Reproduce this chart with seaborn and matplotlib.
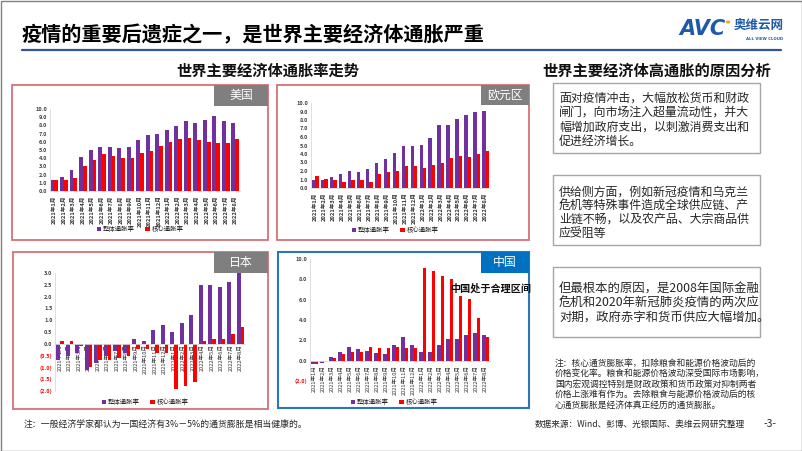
import numpy as np
import pandas as pd
import matplotlib
matplotlib.use("Agg")
import matplotlib.pyplot as plt
from matplotlib.patches import Rectangle, Circle
import seaborn as sns

sns.set_theme(style="white")
plt.rcParams['font.family'] = ['Noto Sans CJK SC', 'DejaVu Sans']
plt.rcParams['axes.unicode_minus'] = False

# ---------------- data ----------------
months = ['2021年1月', '2021年2月', '2021年3月', '2021年4月', '2021年5月', '2021年6月',
          '2021年7月', '2021年8月', '2021年9月', '2021年10月', '2021年11月', '2021年12月',
          '2022年1月', '2022年2月', '2022年3月', '2022年4月', '2022年5月', '2022年6月',
          '2022年7月', '2022年8月']
series_names = ['整体通胀率', '核心通胀率']

us_overall = [1.4, 1.7, 2.6, 4.2, 5.0, 5.4, 5.4, 5.3, 5.4, 6.2, 6.8, 7.0, 7.5, 7.9, 8.5, 8.3, 8.6, 9.1, 8.5, 8.3]
us_core    = [1.4, 1.3, 1.6, 3.0, 3.8, 4.5, 4.3, 4.0, 4.0, 4.6, 4.9, 5.5, 6.0, 6.4, 6.5, 6.2, 6.0, 5.9, 5.9, 6.3]

eu_overall = [0.9, 0.9, 1.3, 1.6, 2.0, 1.9, 2.2, 3.0, 3.4, 4.1, 4.9, 5.0, 5.1, 5.9, 7.4, 7.4, 8.1, 8.6, 8.9, 9.1]
eu_core    = [1.4, 1.1, 0.9, 0.7, 1.0, 0.9, 0.7, 1.6, 1.9, 2.0, 2.6, 2.6, 2.3, 2.7, 3.0, 3.5, 3.8, 3.7, 4.0, 4.3]

jp_overall = [-0.7, -0.5, -0.4, -1.1, -0.8, -0.5, -0.3, -0.4, 0.2, 0.1, 0.6, 0.8, 0.5, 0.9, 1.2, 2.5, 2.5, 2.4, 2.6, 3.0]
jp_core    = [0.1, 0.1, -0.1, -1.0, -0.7, -0.7, -0.6, -0.5, -0.2, -0.2, -0.4, -0.4, -1.9, -1.8, -1.6, 0.1, 0.2, 0.2, 0.4, 0.7]

cn_overall = [-0.3, -0.2, 0.4, 0.9, 1.3, 1.1, 1.0, 0.8, 0.7, 1.5, 2.3, 1.5, 0.9, 0.9, 1.5, 2.1, 2.1, 2.5, 2.7, 2.5]
cn_core    = [-0.3, 0.0, 0.3, 0.7, 0.9, 0.9, 1.3, 1.2, 1.2, 1.3, 1.2, 1.2, 9.1, 8.8, 8.3, 8.0, 6.4, 6.1, 4.2, 2.3]

us_yticks = [0, 1, 2, 3, 4, 5, 6, 7, 8, 9, 10]
eu_yticks = [0, 1, 2, 3, 4, 5, 6, 7, 8, 9, 10]
jp_yticks = [-2.0, -1.5, -1.0, -0.5, 0.0, 0.5, 1.0, 1.5, 2.0, 2.5, 3.0]
cn_yticks = [-2.0, 0.0, 2.0, 4.0, 6.0, 8.0, 10.0]

title = '疫情的重要后遗症之一，是世界主要经济体通胀严重'
left_header = '世界主要经济体通胀率走势'
right_header = '世界主要经济体高通胀的原因分析'
box1_lines = ['面对疫情冲击，大幅放松货币和财政', '闸门，向市场注入超量流动性，并大',
              '幅增加政府支出，以刺激消费支出和', '促进经济增长。']
box2_lines = ['供给侧方面，例如新冠疫情和乌克兰', '危机等特殊事件造成全球供应链、产',
              '业链不畅，以及农产品、大宗商品供', '应受阻等']
box3_lines = ['但最根本的原因，是2008年国际金融', '危机和2020年新冠肺炎疫情的两次应',
              '对期，政府赤字和货币供应大幅增加。']
note_lines = ['注：核心通货膨胀率，扣除粮食和能源价格波动后的',
              '价格变化率。粮食和能源价格波动深受国际市场影响，',
              '国内宏观调控特别是财政政策和货币政策对抑制两者',
              '价格上涨难有作为。去除粮食与能源价格波动后的核',
              '心通货膨胀是经济体真正经历的通货膨胀。']
footnote = '注：一般经济学家都认为一国经济有3%－5%的通货膨胀是相当健康的。'
source = '数据来源：Wind、彭博、光银国际、奥维云网研究整理'

PURPLE = '#7030A0'
RED = '#FF0000'
ROSE = '#D9707A'
GRAY_LBL = '#7F7F7F'
BLUE_LBL = '#0070C0'
BLUE_FRAME = '#2E75B6'

W, H = 802, 451
fig = plt.figure(figsize=(W / 100, H / 100), dpi=100)
fig.patch.set_facecolor('white')


def fx(px):
    return px / W


def fy(py):
    return 1 - py / H


def ax_px(l, t, r, b):
    return fig.add_axes([l / W, 1 - b / H, (r - l) / W, (b - t) / H])


def rect_px(l, t, r, b, **kw):
    fig.add_artist(Rectangle((fx(l), fy(b)), (r - l) / W, (b - t) / H,
                             transform=fig.transFigure, **kw))


def fmt(v):
    return f'{v:.1f}' if v >= 0 else f'({abs(v):.1f})'


def chart(box, overall, core, yticks, leg_xy, width, zero_spine, xpad):
    ax = ax_px(*box)
    df = pd.DataFrame({'月份': months * 2,
                       '系列': [series_names[0]] * len(months) + [series_names[1]] * len(months),
                       '数值': list(overall) + list(core)})
    sns.barplot(data=df, x='月份', y='数值', hue='系列', hue_order=series_names,
                palette=[PURPLE, RED], width=width, errorbar=None, saturation=1,
                linewidth=0, edgecolor='none', ax=ax)
    ax.set_xlim(-0.5, len(months) - 0.5)
    ax.set_ylim(min(yticks), max(yticks))
    ax.set_yticks(yticks)
    ax.set_yticklabels([fmt(v) for v in yticks])
    for lbl, v in zip(ax.get_yticklabels(), yticks):
        lbl.set_color(RED if v < 0 else '#404040')
        lbl.set_fontweight('bold')
        lbl.set_fontsize(4)
    ax.set_xlabel('')
    ax.set_ylabel('')
    ax.tick_params(axis='x', rotation=90, labelsize=4.1, length=0, pad=xpad, colors='#333333')
    ax.tick_params(axis='y', length=0, pad=2)
    for lbl in ax.get_xticklabels():
        lbl.set_fontweight('bold')
    ax.patch.set_alpha(0)
    for s in ['top', 'right']:
        ax.spines[s].set_visible(False)
    ax.spines['left'].set_color('#D9D9D9')
    ax.spines['left'].set_linewidth(0.6)
    ax.spines['bottom'].set_color('#D9D9D9')
    ax.spines['bottom'].set_linewidth(0.6)
    if zero_spine:
        ax.spines['bottom'].set_position(('data', 0))
    h, l = ax.get_legend_handles_labels()
    ax.legend(h, l, loc='center', bbox_to_anchor=(fx(leg_xy[0]), fy(leg_xy[1])),
              bbox_transform=fig.transFigure, ncol=2, frameon=False, fontsize=4.6,
              handlelength=0.7, handleheight=0.7, handletextpad=0.3, columnspacing=1.6,
              borderpad=0)
    return ax


# frames
rect_px(12, 85, 268, 240, fill=False, ec=ROSE, lw=1.3)
rect_px(277, 85, 529, 240, fill=False, ec=ROSE, lw=1.3)
rect_px(13, 252, 268, 409, fill=False, ec=ROSE, lw=1.3)
rect_px(278, 252, 529, 408, fill=False, ec=BLUE_FRAME, lw=1.5)

chart((49.7, 109, 240, 191), us_overall, us_core, us_yticks, (140, 229), 0.8, False, 3)
chart((311, 103, 490, 188), eu_overall, eu_core, eu_yticks, (395, 230), 0.75, False, 3)
chart((55.3, 273, 245.3, 391), jp_overall, jp_core, jp_yticks, (145, 402), 0.75, True, 0.5)
chart((310, 259, 490, 381), cn_overall, cn_core, cn_yticks, (394, 402), 0.75, True, 3)

# label boxes
for (l, t, r, b, txt, c) in [(214, 85, 268, 106, '美国', GRAY_LBL),
                             (481, 85, 529, 105, '欧元区', GRAY_LBL),
                             (214, 252, 268, 273, '日本', GRAY_LBL),
                             (481, 252, 529, 273, '中国', BLUE_LBL)]:
    rect_px(l, t, r, b, fc=c, ec='none')
    fig.text(fx((l + r) / 2), fy((t + b) / 2), txt, color='white', fontsize=8.6,
             ha='center', va='center')

fig.text(fx(450), fy(289), '中国处于合理区间', fontsize=7.3, fontweight='bold',
         ha='left', va='center', color='#111111')

# title & header
fig.text(fx(22), fy(35), title, fontsize=14.5, fontweight='bold', ha='left', va='center',
         color='#000000')
fig.add_artist(plt.Line2D([fx(22), fx(781)], [fy(50), fy(50)], color='#2F5597', lw=1.6,
                          transform=fig.transFigure))
fig.text(fx(702), fy(29), 'AVC', fontsize=15, fontweight='bold', ha='center', va='center',
         color='#1F5AAA', family='DejaVu Sans', style='italic')
fig.add_artist(Circle((fx(728), fy(22)), 1.6 / W, transform=fig.transFigure, color='#F5A623'))
fig.text(fx(759), fy(25), '奥维云网', fontsize=9, fontweight='bold', ha='center', va='center',
         color='#1F5AAA')
fig.text(fx(765), fy(39), 'ALL VIEW CLOUD', fontsize=2.8, fontweight='bold', ha='center',
         va='center', color='#1F5AAA', family='DejaVu Sans')

fig.text(fx(268), fy(71), left_header, fontsize=11, fontweight='bold', ha='center',
         va='center', color='#111111')
fig.text(fx(657), fy(71), right_header, fontsize=11, fontweight='bold', ha='center',
         va='center', color='#111111')

# right boxes
for (t, b, lines, ys, fs) in [(83, 153, box1_lines, [98, 112, 127, 141], 8.6),
                              (175, 245, box2_lines, [192, 206, 219, 233], 8.6),
                              (267, 337, box3_lines, [289, 303, 317], 8.9)]:
    rect_px(553, t, 760, b, fc='white', ec='#A6A6A6', lw=1)
    for s, y in zip(lines, ys):
        fig.text(fx(559), fy(y), s, fontsize=fs, ha='left', va='center', color='#262626')

for s, y in zip(note_lines, [363, 373.5, 384, 394.5, 405]):
    fig.text(fx(555), fy(y), s, fontsize=6.3, ha='left', va='center', color='#262626')

fig.text(fx(24), fy(425), footnote, fontsize=6.4, ha='left', va='center', color='#262626')
fig.text(fx(535), fy(424), source, fontsize=6.2, ha='left', va='center', color='#262626')
fig.text(fx(770), fy(424), '-3-', fontsize=7.5, ha='center', va='center', color='#262626')

# outer border
rect_px(0.5, 0.5, W - 0.5, H - 0.5, fill=False, ec='#808080', lw=1)

fig.savefig('out.png', dpi=100)
